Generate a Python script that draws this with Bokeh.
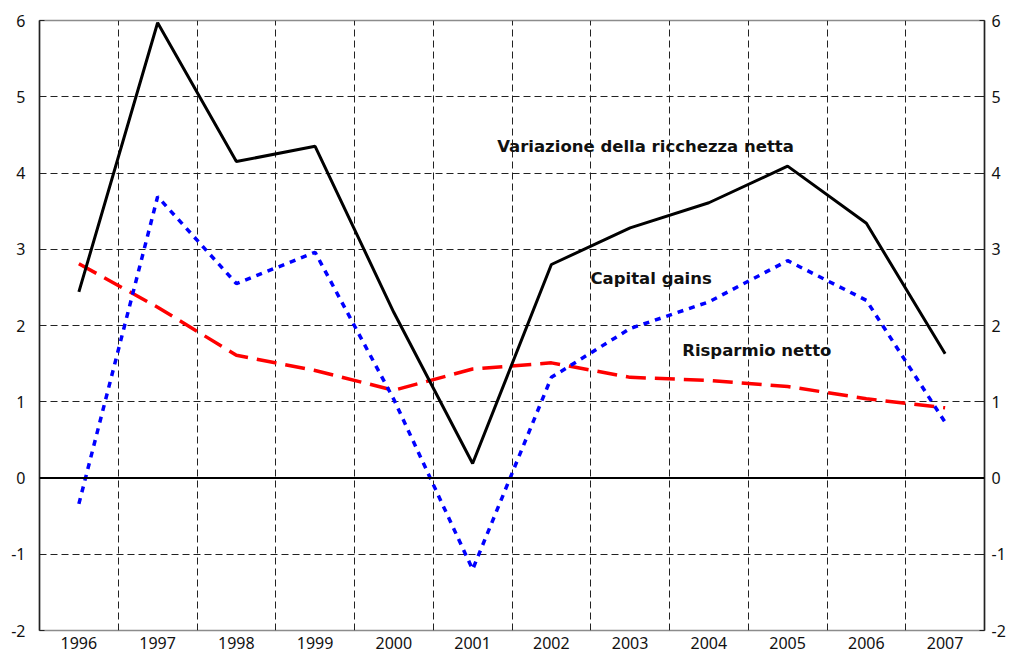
from bokeh.plotting import figure
from bokeh.models import Range1d, LinearAxis, FixedTicker, Label, Span, ColumnDataSource
from bokeh.embed import file_html
from bokeh.resources import INLINE

years = ["1996", "1997", "1998", "1999", "2000", "2001", "2002", "2003", "2004", "2005", "2006", "2007"]
ricchezza = [2.44, 5.97, 4.15, 4.35, 2.17, 0.19, 2.80, 3.28, 3.61, 4.09, 3.34, 1.63]
capital_gains = [-0.34, 3.69, 2.55, 2.96, 1.03, -1.20, 1.32, 1.96, 2.31, 2.85, 2.33, 0.73]
risparmio = [2.81, 2.24, 1.61, 1.41, 1.15, 1.43, 1.51, 1.32, 1.28, 1.20, 1.04, 0.92]
y_ticks = [-2, -1, 0, 1, 2, 3, 4, 5, 6]
y_labels = {t: str(t) for t in y_ticks}

idx = list(range(len(years)))
src = ColumnDataSource(dict(x=idx, ric=ricchezza, cap=capital_gains, ris=risparmio))

p = figure(width=1012, height=660, output_backend="svg", toolbar_location=None,
           x_range=Range1d(-0.5, len(years) - 0.5), y_range=Range1d(y_ticks[0], y_ticks[-1]),
           min_border_left=39, min_border_right=28, min_border_top=20, min_border_bottom=30)
p.background_fill_color = "white"
p.border_fill_color = "white"
p.outline_line_color = "#8c8c8c"
p.outline_line_width = 1.5

TICK_FONT = "Noto Sans"

# x axis (years)
p.xaxis.ticker = FixedTicker(ticks=idx)
p.xaxis.major_label_overrides = {i: y for i, y in zip(idx, years)}
p.xaxis.axis_line_color = None
p.xaxis.major_tick_line_color = None
p.xaxis.minor_tick_line_color = None
p.xaxis.major_tick_in = 0
p.xaxis.major_tick_out = 0
p.xaxis.major_label_standoff = 6
p.xaxis.major_label_text_font = TICK_FONT
p.xaxis.major_label_text_font_size = "16px"
p.xaxis.major_label_text_color = "#111111"

# left y axis
p.yaxis.ticker = FixedTicker(ticks=y_ticks)
p.yaxis.major_label_overrides = y_labels
p.yaxis.axis_line_color = "#222222"
p.yaxis.axis_line_width = 1.5
p.yaxis.major_tick_in = 5
p.yaxis.major_tick_out = 0
p.yaxis.major_tick_line_color = "#222222"
p.yaxis.minor_tick_line_color = None
p.yaxis.major_label_standoff = 14
p.yaxis.major_label_text_font = TICK_FONT
p.yaxis.major_label_text_font_size = "16px"
p.yaxis.major_label_text_color = "#111111"

# right y axis
ra = LinearAxis(ticker=FixedTicker(ticks=y_ticks), major_label_overrides=y_labels)
ra.axis_line_color = "#222222"
ra.axis_line_width = 1.5
ra.major_tick_in = 5
ra.major_tick_out = 0
ra.major_tick_line_color = "#222222"
ra.minor_tick_line_color = None
ra.major_label_standoff = 7
ra.major_label_text_font = TICK_FONT
ra.major_label_text_font_size = "16px"
ra.major_label_text_color = "#111111"
p.add_layout(ra, "right")

# grids
p.xgrid.ticker = FixedTicker(ticks=[i + 0.5 for i in idx[:-1]])
p.ygrid.ticker = FixedTicker(ticks=[t for t in y_ticks if t not in (0, y_ticks[0], y_ticks[-1])])
for g in (p.xgrid, p.ygrid):
    g.grid_line_color = "#222222"
    g.grid_line_dash = "7 4"
    g.grid_line_width = 1

# zero line
p.add_layout(Span(location=0, dimension="width", line_color="black", line_width=1.8))

# series
p.line("x", "ris", source=src, line_color="#ff0000", line_width=3.5, line_dash="20 9")
p.line("x", "cap", source=src, line_color="#0000ff", line_width=3.5, line_dash="6 6")
p.line("x", "ric", source=src, line_color="black", line_width=3)

# annotations
lab_kw = dict(text_font="DejaVu Sans", text_font_style="bold", text_font_size="16.5px",
              text_color="#111111", text_align="left", text_baseline="middle")
p.add_layout(Label(x=5.312, y=4.354, text="Variazione della ricchezza netta", **lab_kw))
p.add_layout(Label(x=6.497, y=2.619, text="Capital gains", **lab_kw))
p.add_layout(Label(x=7.661, y=1.666, text="Risparmio netto", **lab_kw))

open("out.html", "w").write(file_html(p, INLINE))
